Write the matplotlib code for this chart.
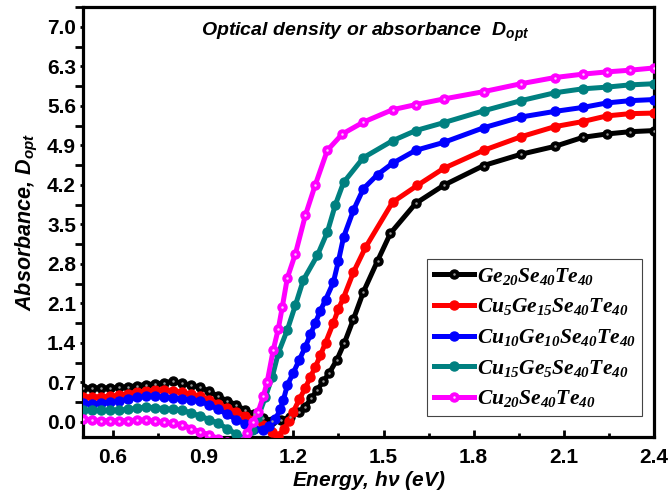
"""Optical density (absorbance) vs photon energy for the Cu-doped Ge-Se-Te films."""

import matplotlib
matplotlib.use("Agg")
import matplotlib.pyplot as plt
from matplotlib.ticker import MultipleLocator, AutoMinorLocator
from matplotlib.legend_handler import HandlerTuple

plt.rcParams["font.family"] = "Liberation Sans"
plt.rcParams["mathtext.fontset"] = "custom"
plt.rcParams["mathtext.rm"] = "Liberation Serif:italic:bold"
plt.rcParams["mathtext.it"] = "Liberation Serif:italic:bold"
plt.rcParams["mathtext.bf"] = "Liberation Serif:italic:bold"
plt.rcParams["mathtext.sf"] = "Liberation Sans:italic:bold"

# --- measured curves (energy in eV, absorbance D_opt) ---
E_ge20 = [0.50, 0.53, 0.56, 0.59, 0.62, 0.65, 0.68, 0.71, 0.74, 0.77, 0.80, 0.83,
          0.86, 0.89, 0.92, 0.95, 0.98, 1.01, 1.04, 1.07, 1.10, 1.13, 1.16, 1.19,
          1.22, 1.24, 1.26, 1.28, 1.30, 1.32, 1.345, 1.37, 1.40, 1.433, 1.48, 1.523,
          1.607, 1.70, 1.833, 1.957, 2.07, 2.163, 2.243, 2.32, 2.40]
D_ge20 = [0.60, 0.60, 0.60, 0.60, 0.61, 0.62, 0.64, 0.66, 0.67, 0.69, 0.72, 0.68,
          0.65, 0.61, 0.54, 0.45, 0.37, 0.30, 0.20, 0.13, 0.06, 0.02, 0.03, 0.09,
          0.18, 0.27, 0.42, 0.57, 0.72, 0.87, 1.10, 1.40, 1.82, 2.30, 2.85, 3.34,
          3.87, 4.19, 4.54, 4.74, 4.88, 5.04, 5.10, 5.14, 5.16]

E_cu5 = [0.50, 0.53, 0.56, 0.59, 0.62, 0.65, 0.68, 0.71, 0.74, 0.77, 0.80, 0.83,
         0.86, 0.89, 0.92, 0.95, 0.98, 1.01, 1.04, 1.07, 1.10, 1.13, 1.15, 1.17,
         1.185, 1.20, 1.22, 1.24, 1.257, 1.273, 1.29, 1.307, 1.333, 1.35, 1.367,
         1.40, 1.44, 1.53, 1.613, 1.70, 1.833, 1.957, 2.07, 2.163, 2.243, 2.32, 2.40]
D_cu5 = [0.44, 0.44, 0.44, 0.45, 0.47, 0.50, 0.52, 0.54, 0.56, 0.57, 0.55, 0.52,
         0.49, 0.45, 0.39, 0.32, 0.24, 0.18, 0.10, 0.04, -0.05, -0.18, -0.25, -0.12,
         0.02, 0.18, 0.40, 0.60, 0.80, 0.97, 1.18, 1.40, 1.75, 2.00, 2.20,
         2.65, 3.09, 3.89, 4.19, 4.49, 4.81, 5.05, 5.23, 5.32, 5.42, 5.46, 5.47]

E_cu10 = [0.50, 0.53, 0.56, 0.59, 0.62, 0.65, 0.68, 0.71, 0.74, 0.77, 0.80, 0.83,
          0.86, 0.89, 0.92, 0.95, 0.98, 1.01, 1.04, 1.07, 1.10, 1.12, 1.14, 1.157,
          1.167, 1.18, 1.20, 1.22, 1.24, 1.257, 1.273, 1.29, 1.307, 1.333, 1.35,
          1.367, 1.40, 1.433, 1.48, 1.53, 1.607, 1.70, 1.833, 1.957, 2.07, 2.163,
          2.243, 2.32, 2.40]
D_cu10 = [0.33, 0.32, 0.33, 0.35, 0.37, 0.40, 0.43, 0.45, 0.46, 0.44, 0.42, 0.41,
          0.39, 0.36, 0.30, 0.22, 0.13, 0.04, -0.04, -0.12, -0.14, -0.08, 0.05, 0.22,
          0.39, 0.65, 0.87, 1.10, 1.33, 1.55, 1.75, 1.97, 2.16, 2.47, 2.85,
          3.27, 3.75, 4.13, 4.38, 4.58, 4.81, 4.95, 5.21, 5.40, 5.50, 5.57,
          5.65, 5.69, 5.71]

E_cu15 = [0.50, 0.53, 0.56, 0.59, 0.62, 0.65, 0.68, 0.71, 0.74, 0.77, 0.80, 0.83,
          0.86, 0.89, 0.92, 0.95, 0.98, 1.01, 1.04, 1.063, 1.083, 1.107, 1.13, 1.15,
          1.18, 1.207, 1.233, 1.28, 1.313, 1.34, 1.367, 1.433, 1.53, 1.607, 1.70,
          1.833, 1.957, 2.07, 2.163, 2.243, 2.32, 2.40]
D_cu15 = [0.21, 0.20, 0.20, 0.20, 0.21, 0.22, 0.24, 0.26, 0.25, 0.23, 0.22, 0.20,
          0.16, 0.10, 0.04, -0.03, -0.12, -0.22, -0.30, -0.14, 0.09, 0.44, 0.80, 1.22,
          1.63, 2.07, 2.51, 2.95, 3.36, 3.85, 4.24, 4.68, 4.98, 5.16, 5.30,
          5.51, 5.69, 5.83, 5.90, 5.93, 5.97, 5.99]

E_cu20 = [0.50, 0.53, 0.56, 0.59, 0.62, 0.65, 0.68, 0.71, 0.74, 0.77, 0.80, 0.83,
          0.86, 0.89, 0.92, 0.95, 0.98, 1.01, 1.03, 1.047, 1.065, 1.083, 1.10, 1.113,
          1.133, 1.15, 1.163, 1.18, 1.207, 1.24, 1.273, 1.313, 1.363, 1.433, 1.53,
          1.607, 1.70, 1.833, 1.957, 2.07, 2.163, 2.243, 2.32, 2.40]
D_cu20 = [0.05, 0.03, 0.02, 0.02, 0.02, 0.02, 0.03, 0.03, 0.01, -0.01, -0.03, -0.05,
          -0.12, -0.18, -0.23, -0.30, -0.36, -0.40, -0.35, -0.20, 0.00, 0.18, 0.45, 0.71,
          1.27, 1.65, 2.03, 2.55, 2.98, 3.66, 4.20, 4.81, 5.10, 5.31, 5.53,
          5.62, 5.72, 5.85, 5.99, 6.10, 6.16, 6.20, 6.23, 6.27]

series = [
    (E_ge20, D_ge20, "#000000", "#999999", r"$Ge_{20}Se_{40}Te_{40}$"),
    (E_cu5, D_cu5, "#ff0000", None, r"$Cu_{5}Ge_{15}Se_{40}Te_{40}$"),
    (E_cu10, D_cu10, "#0000ff", None, r"$Cu_{10}Ge_{10}Se_{40}Te_{40}$"),
    (E_cu15, D_cu15, "#008080", None, r"$Cu_{15}Ge_{5}Se_{40}Te_{40}$"),
    (E_cu20, D_cu20, "#ff00ff", "#ffc8ff", r"$Cu_{20}Se_{40}Te_{40}$"),
]

fig = plt.figure(figsize=(6.68, 4.98), dpi=100)
ax = fig.add_axes([83 / 668, 1 - 437 / 498, (654 - 83) / 668, (437 - 7) / 498])

handles, labels = [], []
for E, D, col, shine, lab in series:
    ln, = ax.plot(E, D, "-o", color=col, lw=3.6, ms=6.5, mfc=col, mec=col, zorder=3)
    h = ln
    if shine is not None:
        # little highlight spot in the middle of each ball marker
        hl, = ax.plot(E, D, "o", color=shine, ms=1.8, mec="none", zorder=4)
        h = (ln, hl)
    handles.append(h)
    labels.append(lab)

ax.set_xlim(0.5, 2.4)
ax.set_ylim(-0.27, 7.35)

ax.xaxis.set_major_locator(MultipleLocator(0.3))
ax.xaxis.set_minor_locator(AutoMinorLocator(2))
ax.yaxis.set_major_locator(MultipleLocator(0.7))
ax.yaxis.set_minor_locator(AutoMinorLocator(2))
ax.xaxis.set_major_formatter(plt.FormatStrFormatter("%.1f"))
ax.yaxis.set_major_formatter(plt.FormatStrFormatter("%.1f"))

ax.tick_params(axis="x", which="major", direction="in", length=5, width=2, pad=8,
               labelsize=15)
ax.tick_params(axis="x", which="minor", direction="in", length=3, width=2)
ax.tick_params(axis="y", which="major", direction="out", length=2, width=2, pad=3,
               labelsize=15)
ax.tick_params(axis="y", which="minor", direction="out", length=6, width=2)
for t in ax.get_xticklabels() + ax.get_yticklabels():
    t.set_fontweight("bold")

for s in ax.spines.values():
    s.set_linewidth(2.3)

ax.set_xlabel(r"Energy, h$\mathsf{\nu}$ (eV)", fontsize=15, fontweight="bold",
              fontstyle="italic", labelpad=1)
ax.set_ylabel(r"Absorbance, $\mathsf{D_{opt}}$", fontsize=15.5, fontweight="bold",
              fontstyle="italic", labelpad=5)
ax.text(0.494, 0.942, r"Optical density or absorbance  $\mathsf{D_{opt}}$",
        transform=ax.transAxes, ha="center", va="center", fontsize=14,
        fontweight="bold", fontstyle="italic")

leg = ax.legend(handles, labels, handler_map={tuple: HandlerTuple(ndivide=1, pad=0)},
                loc="lower right", bbox_to_anchor=(0.979, 0.049), fontsize=15.5,
                handlelength=1.9, handletextpad=0.1, labelspacing=0.45,
                borderpad=0.3, borderaxespad=0, fancybox=False, framealpha=1)
leg.get_frame().set_edgecolor("#444444")
leg.get_frame().set_linewidth(0.8)

fig.savefig("out.png", dpi=100)
